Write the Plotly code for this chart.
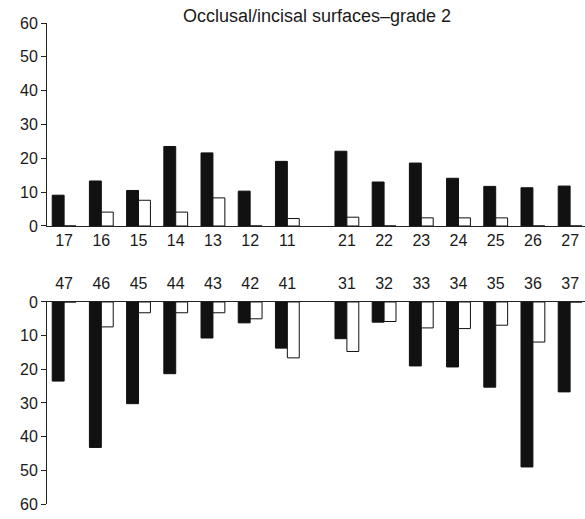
import plotly.graph_objects as go

upper_teeth = ["17", "16", "15", "14", "13", "12", "11", "21", "22", "23", "24", "25", "26", "27"]
upper_black = [9.1, 13.3, 10.5, 23.5, 21.6, 10.3, 19.1, 22.1, 13.0, 18.6, 14.1, 11.7, 11.3, 11.8]
upper_white = [0, 4.1, 7.6, 4.1, 8.3, 0, 2.2, 2.6, 0, 2.4, 2.4, 2.4, 0, 0]

lower_teeth = ["47", "46", "45", "44", "43", "42", "41", "31", "32", "33", "34", "35", "36", "37"]
lower_black = [23.5, 43.2, 30.2, 21.3, 10.7, 6.2, 13.7, 10.9, 6.0, 19.0, 19.3, 25.3, 49.0, 26.7]
lower_white = [0, 7.4, 3.2, 3.2, 3.2, 5.0, 16.6, 14.7, 5.8, 7.7, 7.9, 6.9, 11.9, 0]

y_ticks = [0, 10, 20, 30, 40, 50, 60]

# slot positions: two quadrants of seven teeth with a gap between them
pos = [i for i in range(7)] + [7.6 + i for i in range(7)]

BW = 0.32
fig = go.Figure()
for (bl, wh, xa, ya) in [(upper_black, upper_white, "x", "y"), (lower_black, lower_white, "x2", "y2")]:
    fig.add_trace(go.Bar(x=pos, y=bl, width=BW, offset=-BW, marker=dict(color="#111111", line=dict(color="#111111", width=1)),
                         xaxis=xa, yaxis=ya, showlegend=False, hoverinfo="y"))
    fig.add_trace(go.Bar(x=pos, y=wh, width=BW, offset=0, marker=dict(color="white", line=dict(color="#111111", width=1)),
                         xaxis=xa, yaxis=ya, showlegend=False, hoverinfo="y"))

font = dict(family="Liberation Sans, Arial, sans-serif", size=16, color="#1a1a1a")
xcommon = dict(range=[-0.46, 14.0], tickmode="array", tickvals=pos, showgrid=False, zeroline=False,
               showline=True, linecolor="#222222", linewidth=1, ticks="", tickfont=font)
ycommon = dict(range=[0, 60], tickmode="array", tickvals=y_ticks, ticktext=[str(v) for v in y_ticks],
               showgrid=False, zeroline=False, showline=True, linecolor="#222222", linewidth=1,
               ticks="outside", ticklen=5, tickcolor="#222222", tickfont=font)

fig.update_layout(
    width=585, height=519,
    margin=dict(l=47, r=0, t=23, b=15),
    plot_bgcolor="white", paper_bgcolor="white",
    barmode="overlay",
    font=font,
    xaxis=dict(xcommon, domain=[0, 1], anchor="y", ticktext=upper_teeth),
    yaxis=dict(ycommon, domain=[0.578, 1.0], anchor="x"),
    xaxis2=dict(xcommon, domain=[0, 1], anchor="y2", side="top", ticktext=lower_teeth, ticklabelstandoff=6),
    yaxis2=dict(ycommon, domain=[0, 0.42], anchor="x2", autorange=False, range=[60, 0]),
    annotations=[dict(text="Occlusal/incisal surfaces\u2013grade 2",
                      x=(317 - 47) / 538, y=(504 - 16) / 481, xref="paper", yref="paper",
                      xanchor="center", yanchor="middle", showarrow=False,
                      font=dict(family="Liberation Sans, Arial, sans-serif", size=18, color="#1a1a1a"))],
)

fig.write_html("out.html", config={"displayModeBar": False},
               post_script="document.body.style.margin='0';document.body.style.overflow='hidden';")
